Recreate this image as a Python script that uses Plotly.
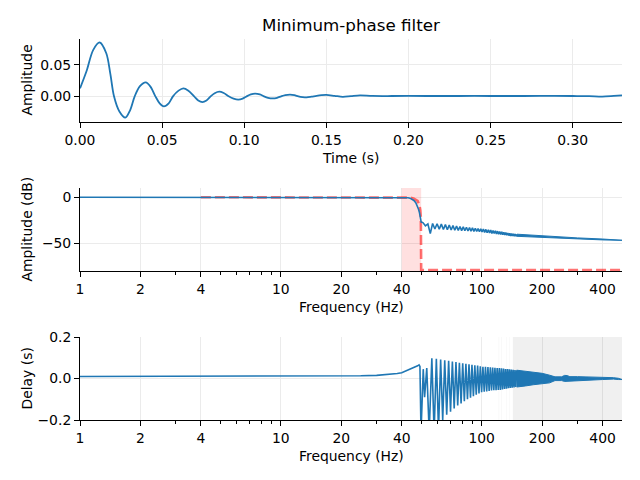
import math
import plotly.graph_objects as go

# ---------------- data ----------------
# Panel 1: impulse response
time_s = [0.000, 0.004, 0.008, 0.012, 0.016, 0.0185, 0.0207, 0.024, 0.0276, 0.0305, 0.0333,
          0.0365, 0.040, 0.043, 0.0459, 0.0485, 0.0511, 0.054, 0.0566, 0.060, 0.0629,
          0.066, 0.0695, 0.072, 0.0745, 0.077, 0.0795, 0.082, 0.0848, 0.0875, 0.0905,
          0.0935, 0.0964, 0.099, 0.1015, 0.104, 0.1066, 0.1095, 0.112, 0.1145, 0.1173,
          0.120, 0.1225, 0.125, 0.1279, 0.1305, 0.133, 0.1355, 0.138, 0.141, 0.144,
          0.147, 0.150, 0.155, 0.160, 0.165, 0.1705, 0.178, 0.19, 0.20, 0.22, 0.24,
          0.26, 0.28, 0.30, 0.31, 0.318, 0.325, 0.33]
impulse = [0.0126, 0.040, 0.073, 0.085, 0.068, 0.035, 0.0, -0.024, -0.0337, -0.022, 0.0,
           0.016, 0.0221, 0.015, 0.0, -0.011, -0.0158, -0.011, 0.0, 0.009, 0.0126,
           0.009, 0.0, -0.0065, -0.009, -0.0065, 0.0, 0.005, 0.0074, 0.0052, 0.0,
           -0.0037, -0.0052, -0.0037, 0.0, 0.003, 0.0043, 0.003, 0.0, -0.0023, -0.0032,
           -0.0023, 0.0, 0.0019, 0.0027, 0.0019, 0.0, -0.0011, -0.0016, -0.0005, 0.0008,
           0.0018, 0.0022, 0.0008, -0.0007, 0.0004, 0.0015, 0.0006, 0.0005, 0.0006, 0.0005, 0.0006,
           0.0005, 0.0006, 0.0005, 0.0003, -0.0005, 0.0006, 0.0015]

# Panel 2: magnitude response (dB)
mag_freqs = [1, 2, 5, 10, 20, 30, 36, 40, 42, 43, 44, 45, 46, 47, 48, 48.5, 49, 49.5, 50,
             51, 52.5, 54, 55.5, 57, 58.5, 60, 61.5, 63, 64.5, 66, 67.5, 69, 70.5, 72, 73.5,
             75, 76.5, 78, 79.5, 81, 82.5, 84, 85.5, 87, 88.5, 90, 91.5, 93, 94.5, 96, 97.5,
             99, 100.5, 102, 103.5, 105, 106.5, 108, 109.5, 111, 112.5, 114, 115.5, 117,
             118.5, 120, 121.5, 123, 124.5, 126, 127.5, 129, 130.5, 132, 133.5, 135, 136.5,
             138, 139.5, 141, 142.5, 144, 145.5, 147, 148.5, 150]
mag_db = [0, 0, 0, 0, 0, 0, 0, 0, -0.2, -0.5, -1, -2, -3.5, -6, -10, -13, -16.5, -21, -27,
          -27.5, -31, -29, -39.5, -28.5, -34.5, -28.8, -34.6, -29.2, -35, -29.7, -35.2, -30.2,
          -35.5, -30.8, -35.8, -31.3, -36, -31.8, -36.2, -32.2, -36.4, -32.6, -36.6, -33,
          -36.8, -33.3, -37, -33.6, -37.2, -34, -37.4, -34.3, -37.6, -34.4, -38.2, -34.9,
          -38.5, -35.2, -38.8, -35.6, -39.2, -36.0, -39.4, -36.4, -39.8, -36.8, -40.0, -37.2,
          -40.4, -37.6, -40.6, -38.0, -41.0, -38.4, -41.3, -38.8, -41.6, -39.2, -41.9, -39.4,
          -42.0, -39.6, -42.2, -39.8, -42.4, -40.1]
mag_band_freqs = [150, 200, 250, 300, 400, 500]
mag_band_upper = [-40.1, -42.0, -43.2, -44.1, -45.3, -45.9]
mag_band_lower = [-42.4, -43.8, -44.6, -45.3, -46.3, -46.7]

ideal_freqs = [4, 40, 44, 46, 48, 49, 49.5, 49.8, 49.95, 50, 500]
ideal_db = [0, 0, -0.5, -1.5, -4, -8.5, -14, -22, -40, -79, -79]
transition_band = [40, 50]

# Panel 3: group delay (s)
delay_freqs = [1, 2, 4, 7, 10, 15, 20, 25, 30, 34, 38, 40, 42, 44, 46, 48, 48.8, 49.3, 49.9,
               51.2, 52.0, 53.3, 54.8,
               56.5, 58, 59.5, 61, 62.5, 64, 65.5, 67, 68.5, 70, 71.5, 73, 74.5, 76, 77.5, 79,
               80.5, 82, 83.5, 85, 86.5, 88, 89.5, 91, 92.5, 94, 95.5, 97, 98.5, 100, 101.5,
               103, 104.5, 106, 107.5, 109, 110.5, 112, 113.5, 115, 116.5, 118, 119.5, 121,
               122.5, 124, 125.5, 127, 128.5, 130, 131.5, 133, 134.5, 136, 137.5, 139, 140.5,
               142, 143.5, 145, 146.5, 148, 149.5]
delay_s = [0.010, 0.010, 0.010, 0.011, 0.010, 0.011, 0.012, 0.013, 0.015, 0.019, 0.024, 0.028,
           0.036, 0.046, 0.054, 0.061, 0.066, 0.058, -0.26,
           0.045, -0.09, 0.05, -0.26,
           0.097, -0.26, 0.095, -0.25, 0.092, -0.20, 0.088, -0.175, 0.085, -0.16,
           0.082, -0.145, 0.079, -0.13, 0.076, -0.12, 0.073, -0.11, 0.071, -0.10,
           0.068, -0.092, 0.066, -0.085, 0.064, -0.078, 0.062, -0.072, 0.059, -0.066,
           0.057, -0.064, 0.056, -0.062, 0.055, -0.06, 0.054, -0.058, 0.053, -0.057,
           0.052, -0.056, 0.051, -0.055, 0.05, -0.055, 0.049, -0.053, 0.048, -0.051,
           0.046, -0.049, 0.045, -0.047, 0.044, -0.045, 0.043, -0.044, 0.042, -0.043,
           0.041, -0.041, 0.04]
delay_band_freqs = [149.5, 165, 181, 200, 218, 232, 250, 259, 267, 275, 300, 350, 400, 453, 480, 500]
delay_band_upper = [0.040, 0.036, 0.031, 0.025, 0.016, 0.008, 0.008, 0.015, 0.014, 0.009,
                    0.009, 0.008, 0.006, 0.004, 0.001, -0.002]
delay_band_lower = [-0.041, -0.036, -0.030, -0.024, -0.021, -0.010, -0.010, -0.014, -0.013,
                    -0.010, -0.009, -0.007, -0.005, -0.003, -0.005, -0.005]
unreliable_bands = [[121.6, 122.3], [125.2, 125.8], [132.7, 133.3], [137.6, 138.2], [143, 500]]

time_ticks = [0.0, 0.05, 0.10, 0.15, 0.20, 0.25, 0.30]
time_ticktext = ["0.00", "0.05", "0.10", "0.15", "0.20", "0.25", "0.30"]
freq_ticks = [1, 2, 4, 10, 20, 40, 100, 200, 400]
freq_ticktext = ["1", "2", "4", "10", "20", "40", "100", "200", "400"]
freq_minor = [3, 5, 6, 7, 8, 9, 30, 50, 60, 70, 80, 90, 300]
freq_limits = [1, 500]

# ---------------- figure ----------------
BLUE = "#1f77b4"
FONT = "DejaVu Sans"
GRID = "#ebebeb"

fig = go.Figure()

# panel 1
fig.add_trace(go.Scatter(x=time_s, y=impulse, mode="lines", xaxis="x", yaxis="y",
                         line=dict(color=BLUE, width=1.8, shape="spline", smoothing=0.9)))

# panel 2: transition band shading
fig.add_trace(go.Scatter(x=[transition_band[0], transition_band[1], transition_band[1], transition_band[0], transition_band[0]],
                         y=[-80, -80, 10, 10, -80], mode="lines", fill="toself",
                         fillcolor="rgba(255,0,0,0.12)", line=dict(width=0),
                         xaxis="x2", yaxis="y2", hoverinfo="skip"))
fig.add_trace(go.Scatter(x=ideal_freqs, y=ideal_db, mode="lines", xaxis="x2", yaxis="y2",
                         line=dict(color="rgba(255,0,0,0.55)", width=2.6, dash="10px,4px")))
fig.add_trace(go.Scatter(x=mag_freqs, y=mag_db, mode="lines", xaxis="x2", yaxis="y2",
                         line=dict(color=BLUE, width=1.6)))
fig.add_trace(go.Scatter(x=mag_band_freqs + mag_band_freqs[::-1],
                         y=mag_band_upper + mag_band_lower[::-1], mode="lines", fill="toself",
                         fillcolor=BLUE, line=dict(color=BLUE, width=1),
                         xaxis="x2", yaxis="y2"))

# panel 3: unreliable region shading
for lo, hi in unreliable_bands:
    fig.add_trace(go.Scatter(x=[lo, hi, hi, lo, lo], y=[-0.2, -0.2, 0.2, 0.2, -0.2],
                             mode="lines", fill="toself", fillcolor="rgba(0,0,0,0.06)",
                             line=dict(width=0), xaxis="x3", yaxis="y3", hoverinfo="skip"))
fig.add_trace(go.Scatter(x=delay_freqs, y=delay_s, mode="lines", xaxis="x3", yaxis="y3",
                         line=dict(color=BLUE, width=1.6)))
fig.add_trace(go.Scatter(x=delay_band_freqs + delay_band_freqs[::-1],
                         y=delay_band_upper + delay_band_lower[::-1], mode="lines", fill="toself",
                         fillcolor=BLUE, line=dict(color=BLUE, width=1),
                         xaxis="x3", yaxis="y3"))

xdom = [80 / 640, 622 / 640]
tickfont = dict(family=FONT, size=13.9, color="black")
common = dict(showline=True, linecolor="black", linewidth=1, ticks="outside", ticklen=5,
              tickwidth=1, tickcolor="black", showgrid=True, gridcolor=GRID, gridwidth=1,
              zeroline=False, tickfont=tickfont, automargin=False)

freq_axis = dict(type="log", range=[math.log10(freq_limits[0]), math.log10(freq_limits[1])],
                 tickmode="array", tickvals=freq_ticks, ticktext=freq_ticktext, domain=xdom,
                 minor=dict(tickmode="array", tickvals=freq_minor, ticks="outside", ticklen=3,
                            tickcolor="black", tickwidth=1, showgrid=False), **common)

fig.update_layout(
    width=640, height=480, margin=dict(l=0, r=0, t=0, b=0, autoexpand=False),
    paper_bgcolor="white", plot_bgcolor="white", showlegend=False,
    font=dict(family=FONT, size=13.9, color="black"),
    xaxis=dict(domain=xdom, anchor="y", range=[0, 0.33], tickmode="array",
               tickvals=time_ticks, ticktext=time_ticktext, **common),
    yaxis=dict(domain=[1 - 122 / 480, 1 - 39 / 480], anchor="x", range=[-0.0405, 0.0905],
               tickmode="array", tickvals=[0.0, 0.05], ticktext=["0.00", "0.05"], **common),
    xaxis2=dict(anchor="y2", **freq_axis),
    yaxis2=dict(domain=[1 - 271 / 480, 1 - 188 / 480], anchor="x2", range=[-80, 10],
                tickmode="array", tickvals=[0, -50], ticktext=["0", "\u221250"], **common),
    xaxis3=dict(anchor="y3", **freq_axis),
    yaxis3=dict(domain=[1 - 420 / 480, 1 - 337 / 480], anchor="x3", range=[-0.2, 0.2],
                tickmode="array", tickvals=[-0.2, 0.0, 0.2], ticktext=["\u22120.2", "0.0", "0.2"],
                **common),
)

def ann(text, x, y, size=13.9, angle=0):
    fig.add_annotation(text=text, xref="paper", yref="paper", x=x / 640, y=1 - y / 480,
                       showarrow=False, font=dict(family=FONT, size=size, color="black"),
                       textangle=angle, xanchor="center", yanchor="middle")

ann("Minimum-phase filter", 351, 25, size=16.7)
ann("Time (s)", 351, 158)
ann("Frequency (Hz)", 351, 307)
ann("Frequency (Hz)", 351, 456)
ann("Amplitude", 26, 80.5, angle=-90)
ann("Amplitude (dB)", 26, 229.5, angle=-90)
ann("Delay (s)", 26, 378.5, angle=-90)

fig.write_html("out.html", config={"displayModeBar": False},
               post_script="document.body.style.margin='0';document.body.style.padding='0';")
